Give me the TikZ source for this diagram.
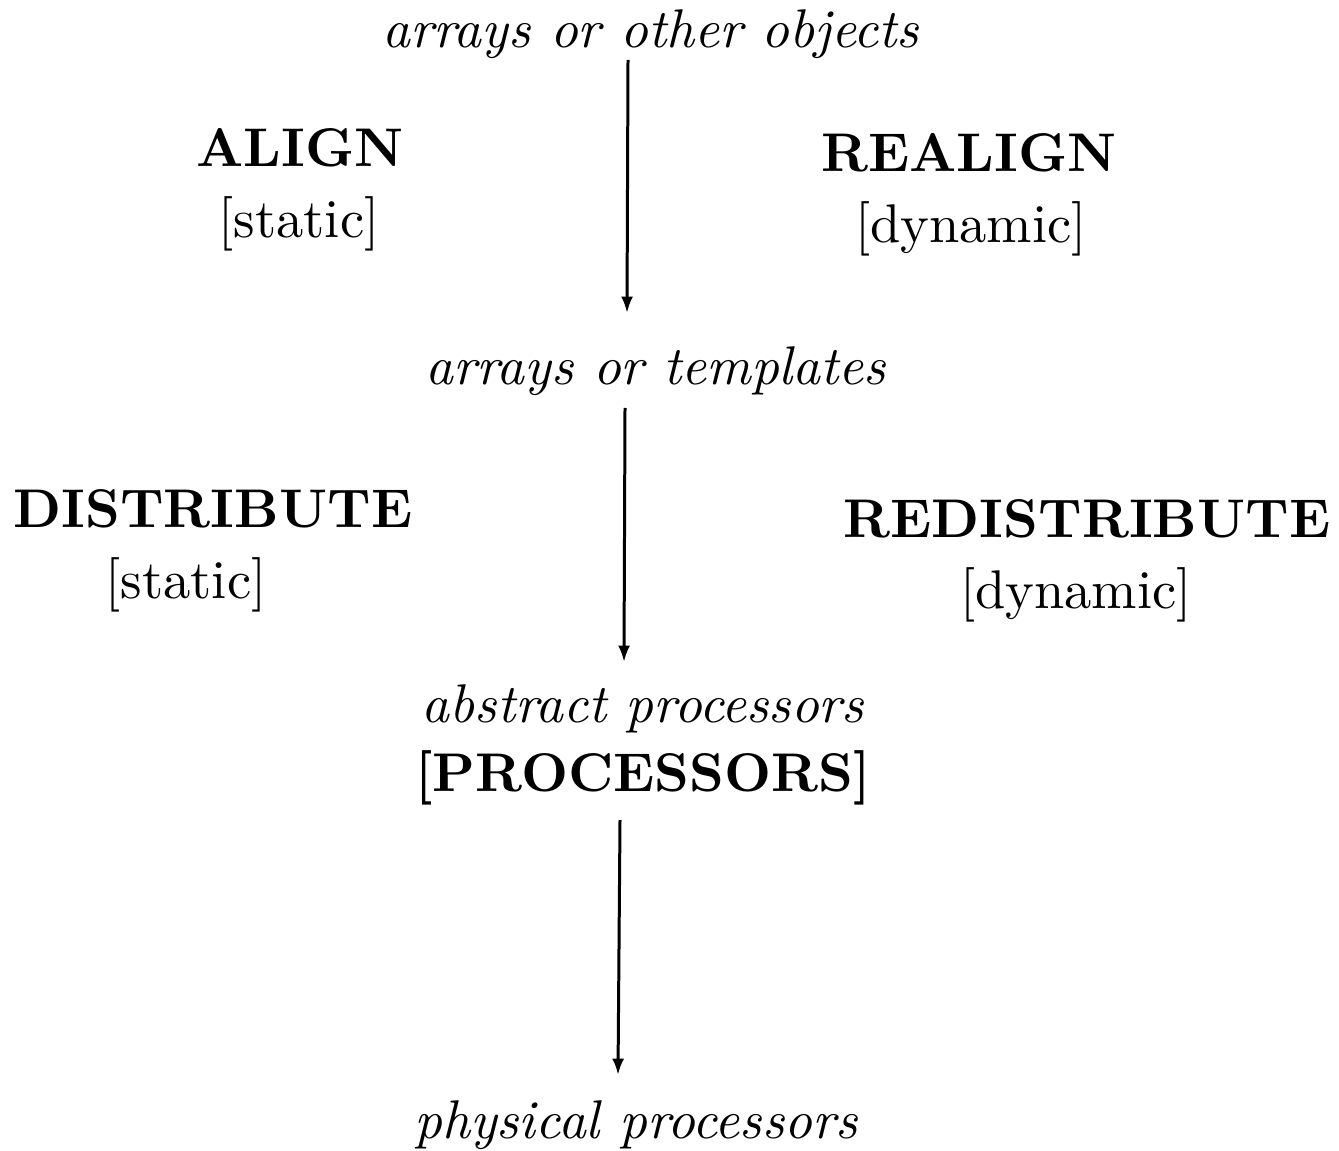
\documentclass[tikz,border=0pt]{standalone}
\usetikzlibrary{arrows.meta}
\begin{document}
\begin{tikzpicture}[x=0.1835pt,y=-0.1835pt,
  lbl/.style={inner sep=0pt,anchor=base,font=\itshape},
  op/.style={inner sep=0pt,anchor=base,font=\bfseries},
  kind/.style={inner sep=0pt,anchor=base},
  arr/.style={line width=0.55pt,-{Latex[length=3pt,width=2.2pt]}}]
\useasboundingbox (0,0) rectangle (1339,1151);
% level labels
\node[lbl] (objs) at (651,48) {arrays or other objects};
\node[lbl] (tmpl) at (656,385) {arrays or templates};
\node[lbl] (abst) at (643,722) {abstract processors};
\node[op]  (procs) at (643,791) {[PROCESSORS]};
\node[lbl] (phys) at (636,1138) {physical processors};
% operations
\node[op]   (align) at (300,167) {ALIGN};
\node[kind] (alignk) at (299,238) {[static]};
\node[op]   (realign) at (969,172) {REALIGN};
\node[kind] (realignk) at (971,243) {[dynamic]};
\node[op]   (dist) at (213,527) {DISTRIBUTE};
\node[kind] (distk) at (186,598) {[static]};
\node[op]   (redist) at (1087,537) {REDISTRIBUTE};
\node[kind] (redistk) at (1076,608) {[dynamic]};
% arrow ends
\coordinate (a1s) at (628,60);
\coordinate (a1e) at (627,313);
\coordinate (a2s) at (625,408);
\coordinate (a2e) at (624,662);
\coordinate (a3s) at (620,820);
\coordinate (a3e) at (618,1075);
\draw[arr] (a1s) -- (a1e);
\draw[arr] (a2s) -- (a2e);
\draw[arr] (a3s) -- (a3e);
\end{tikzpicture}
\end{document}
